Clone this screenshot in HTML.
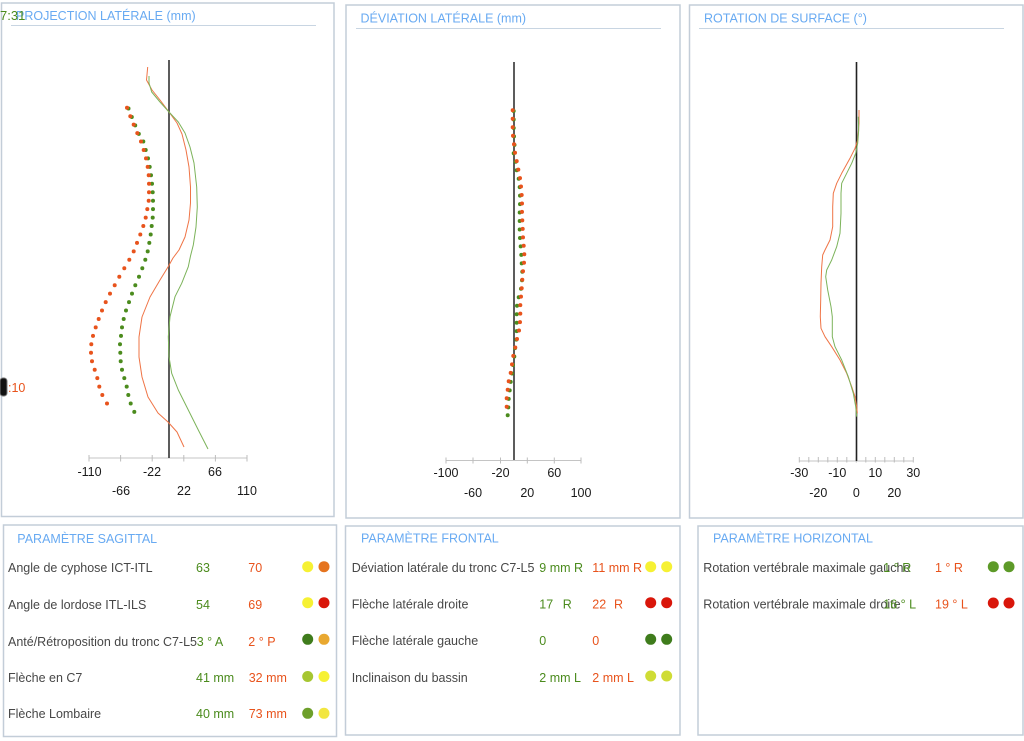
<!DOCTYPE html>
<html><head><meta charset="utf-8"><style>
html,body{margin:0;padding:0;background:#fff;}
svg{display:block;}
text{font-family:"Liberation Sans",Arial,sans-serif;}
.t{fill:#68aaf2;font-size:12.5px;}
.lb{fill:#474747;font-size:12.5px;}
.g{fill:#4b8b1d;font-size:12.5px;}
.o{fill:#e8531c;font-size:12.5px;}
.ax{fill:#1a1a1a;font-size:12.5px;text-anchor:middle;}
</style></head><body>
<svg width="1024" height="741" viewBox="0 0 1024 741" xmlns="http://www.w3.org/2000/svg">
<rect width="1024" height="741" fill="#fff"/>
<g fill="none" stroke="#c3cdd8" stroke-width="1.5">
<rect x="1.5" y="3" width="332.5" height="513.5"/>
<rect x="346" y="5" width="334" height="513"/>
<rect x="689.5" y="5" width="333.5" height="513"/>
<rect x="3.5" y="525" width="333" height="211.5"/>
<rect x="345.5" y="526" width="334.5" height="209"/>
<rect x="698" y="526" width="325" height="209"/>
</g>
<g stroke="#c8d5e2" stroke-width="1">
<line x1="11" y1="25.5" x2="316" y2="25.5"/>
<line x1="356" y1="28.5" x2="661" y2="28.5"/>
<line x1="699" y1="28.5" x2="1004" y2="28.5"/>
</g>
<text class="t" x="16" y="20">PROJECTION LATÉRALE (mm)</text>
<text class="t" x="360.5" y="22.5">DÉVIATION LATÉRALE (mm)</text>
<text class="t" x="704" y="22.5">ROTATION DE SURFACE (°)</text>
<text class="g" x="0" y="20" style="font-size:13px">7:31</text>
<rect x="0" y="378" width="7" height="18" rx="3" fill="#111" stroke="#777" stroke-width="1"/>
<text class="o" x="8" y="392">:10</text>

<!-- ===== Panel 1 ===== -->
<line x1="89" y1="458" x2="247" y2="458" stroke="#c4c4c4" stroke-width="1"/>
<g stroke="#bdbdbd" stroke-width="1">
<line x1="89" y1="455" x2="89" y2="461.5"/><line x1="120.6" y1="455" x2="120.6" y2="461.5"/>
<line x1="152.2" y1="455" x2="152.2" y2="461.5"/><line x1="183.8" y1="455" x2="183.8" y2="461.5"/>
<line x1="215.4" y1="455" x2="215.4" y2="461.5"/><line x1="247" y1="455" x2="247" y2="461.5"/>
</g>
<line x1="169" y1="60" x2="169" y2="458" stroke="#4a4a4a" stroke-width="1.8"/>
<text class="ax" x="89.5" y="476">-110</text><text class="ax" x="152" y="476">-22</text><text class="ax" x="215" y="476">66</text>
<text class="ax" x="121" y="495">-66</text><text class="ax" x="184" y="495">22</text><text class="ax" x="247" y="495">110</text>
<polyline fill="none" stroke="#ef7446" stroke-width="1" stroke-linejoin="round" points="147.7,67 146.5,80 152,90 160,100 169,112 177,123 182,134 186,150 189,167 190.5,187 190.5,203 189,220 185,237 179,250 173,258 168,267 160,280 150,297 142,317 139,337 139,357 142,377 148,397 158,413 168,422 177,432 184,447"/>
<polyline fill="none" stroke="#7cb35a" stroke-width="1" stroke-linejoin="round" points="149,76 149,83 151.7,92 160,102 169,112 178.3,122 185,133 190,147 194,163 196.7,187 197.3,207 196,227 193.3,245 190.5,256 188.3,266.7 181.7,283.3 175,296.7 170,316.7 168.3,336.7 169,356.7 171.7,373.3 178.3,390 188.3,410 198.3,430 208,449"/>
<g fill="#4b8b1d">
<circle cx="128.5" cy="108.5" r="2"/><circle cx="131.8" cy="117" r="2"/><circle cx="135.2" cy="125.4" r="2"/><circle cx="138.8" cy="133.9" r="2"/>
<circle cx="143.3" cy="141.5" r="2"/><circle cx="145.7" cy="150" r="2"/><circle cx="148" cy="158.4" r="2"/><circle cx="149.7" cy="166.9" r="2"/><circle cx="151" cy="175.3" r="2"/><circle cx="152" cy="183.8" r="2"/><circle cx="152.7" cy="192.2" r="2"/><circle cx="153" cy="200.7" r="2"/><circle cx="153" cy="209.1" r="2"/><circle cx="152.7" cy="217.6" r="2"/><circle cx="151.7" cy="226" r="2"/><circle cx="150.7" cy="234.5" r="2"/><circle cx="149.3" cy="242.9" r="2"/><circle cx="147.7" cy="251.4" r="2"/><circle cx="145.3" cy="259.8" r="2"/><circle cx="142.3" cy="268.3" r="2"/><circle cx="139" cy="276.7" r="2"/><circle cx="135.3" cy="285.2" r="2"/><circle cx="132" cy="293.6" r="2"/><circle cx="129" cy="302.1" r="2"/><circle cx="126" cy="310.5" r="2"/><circle cx="123.7" cy="319" r="2"/><circle cx="122" cy="327.4" r="2"/><circle cx="121" cy="335.9" r="2"/><circle cx="120" cy="344.3" r="2"/><circle cx="120.3" cy="352.8" r="2"/><circle cx="120.7" cy="361.2" r="2"/><circle cx="122" cy="369.7" r="2"/><circle cx="124.3" cy="378.1" r="2"/><circle cx="126.7" cy="386.6" r="2"/><circle cx="128.3" cy="395" r="2"/><circle cx="130.7" cy="403.5" r="2"/><circle cx="134.3" cy="411.9" r="2"/>
</g>
<g fill="#e8531c">
<circle cx="127" cy="107.7" r="2"/><circle cx="130.3" cy="116.2" r="2"/><circle cx="133.7" cy="124.6" r="2"/><circle cx="137.3" cy="133.1" r="2"/><circle cx="141" cy="141.5" r="2"/><circle cx="143.7" cy="150" r="2"/><circle cx="146" cy="158.4" r="2"/><circle cx="147.7" cy="166.9" r="2"/><circle cx="148.7" cy="175.3" r="2"/><circle cx="149" cy="183.8" r="2"/><circle cx="149" cy="192.2" r="2"/><circle cx="148.7" cy="200.7" r="2"/><circle cx="147.3" cy="209.1" r="2"/><circle cx="145.7" cy="217.6" r="2"/><circle cx="143.3" cy="226" r="2"/><circle cx="140.3" cy="234.5" r="2"/><circle cx="137" cy="242.9" r="2"/><circle cx="133.7" cy="251.4" r="2"/><circle cx="129.3" cy="259.8" r="2"/><circle cx="124.3" cy="268.3" r="2"/><circle cx="119.3" cy="276.7" r="2"/><circle cx="114.7" cy="285.2" r="2"/><circle cx="110" cy="293.6" r="2"/><circle cx="105.7" cy="302.1" r="2"/><circle cx="102" cy="310.5" r="2"/><circle cx="98.7" cy="319" r="2"/><circle cx="95.7" cy="327.4" r="2"/><circle cx="93" cy="335.9" r="2"/><circle cx="91.3" cy="344.3" r="2"/><circle cx="91" cy="352.8" r="2"/><circle cx="92" cy="361.2" r="2"/><circle cx="94.7" cy="369.7" r="2"/><circle cx="97.3" cy="378.1" r="2"/><circle cx="99.3" cy="386.6" r="2"/><circle cx="102.3" cy="395" r="2"/><circle cx="107" cy="403.5" r="2"/>
</g>

<!-- ===== Panel 2 ===== -->
<line x1="446" y1="460.5" x2="581" y2="460.5" stroke="#c4c4c4" stroke-width="1"/>
<g stroke="#bdbdbd" stroke-width="1">
<line x1="446" y1="457.5" x2="446" y2="463.5"/><line x1="473" y1="457.5" x2="473" y2="463.5"/>
<line x1="500.5" y1="457.5" x2="500.5" y2="463.5"/><line x1="527.3" y1="457.5" x2="527.3" y2="463.5"/>
<line x1="554.3" y1="457.5" x2="554.3" y2="463.5"/><line x1="581" y1="457.5" x2="581" y2="463.5"/>
</g>
<line x1="514" y1="62" x2="514" y2="460" stroke="#333" stroke-width="1.6"/>
<text class="ax" x="446" y="477">-100</text><text class="ax" x="500.5" y="477">-20</text><text class="ax" x="554.3" y="477">60</text>
<text class="ax" x="473" y="497">-60</text><text class="ax" x="527.3" y="497">20</text><text class="ax" x="581" y="497">100</text>
<g fill="#4b8b1d">
<circle cx="513.7" cy="111" r="2"/><circle cx="513.7" cy="119.5" r="2"/><circle cx="513.7" cy="128" r="2"/><circle cx="514" cy="136.4" r="2"/><circle cx="514.5" cy="144.9" r="2"/>
<circle cx="513.7" cy="153.2" r="2"/><circle cx="515.7" cy="161.7" r="2"/><circle cx="516.7" cy="170.2" r="2"/><circle cx="518.7" cy="178.7" r="2"/><circle cx="519.7" cy="187.1" r="2"/><circle cx="520" cy="195.6" r="2"/><circle cx="520" cy="204.1" r="2"/><circle cx="519.7" cy="212.5" r="2"/><circle cx="519.7" cy="221" r="2"/><circle cx="519.7" cy="229.5" r="2"/><circle cx="520" cy="238" r="2"/><circle cx="520.7" cy="246.4" r="2"/><circle cx="521.3" cy="254.9" r="2"/><circle cx="521.7" cy="263.4" r="2"/><circle cx="522.3" cy="271.8" r="2"/><circle cx="522" cy="280.3" r="2"/><circle cx="521" cy="288.8" r="2"/><circle cx="518.7" cy="297.2" r="2"/><circle cx="517" cy="305.7" r="2"/><circle cx="516.7" cy="314.2" r="2"/><circle cx="516.7" cy="322.7" r="2"/><circle cx="516.7" cy="331.1" r="2"/><circle cx="516.3" cy="339.6" r="2"/><circle cx="515" cy="348.1" r="2"/><circle cx="514.3" cy="356.5" r="2"/><circle cx="513" cy="365" r="2"/><circle cx="512" cy="373.5" r="2"/><circle cx="510.7" cy="381.9" r="2"/><circle cx="509.7" cy="390.4" r="2"/><circle cx="508.7" cy="398.9" r="2"/><circle cx="508.3" cy="407.4" r="2"/><circle cx="507.7" cy="415.2" r="2"/>
</g>
<g fill="#e8531c">
<circle cx="512.7" cy="110.3" r="2"/><circle cx="512.7" cy="118.8" r="2"/><circle cx="512.7" cy="127.2" r="2"/><circle cx="513" cy="135.7" r="2"/><circle cx="514" cy="144.2" r="2"/><circle cx="515" cy="152.7" r="2"/><circle cx="516.7" cy="161.1" r="2"/><circle cx="518.3" cy="169.6" r="2"/><circle cx="520" cy="178.1" r="2"/><circle cx="521" cy="186.5" r="2"/><circle cx="521.7" cy="195" r="2"/><circle cx="522" cy="203.5" r="2"/><circle cx="522" cy="211.9" r="2"/><circle cx="522.3" cy="220.4" r="2"/><circle cx="522.7" cy="228.9" r="2"/><circle cx="523" cy="237.4" r="2"/><circle cx="523.7" cy="245.8" r="2"/><circle cx="524.3" cy="254.3" r="2"/><circle cx="524" cy="262.8" r="2"/><circle cx="523" cy="271.2" r="2"/><circle cx="522.3" cy="279.7" r="2"/><circle cx="521.7" cy="288.2" r="2"/><circle cx="521" cy="296.6" r="2"/><circle cx="520.3" cy="305.1" r="2"/><circle cx="520.3" cy="313.6" r="2"/><circle cx="520" cy="322.1" r="2"/><circle cx="519" cy="330.5" r="2"/><circle cx="517" cy="339" r="2"/><circle cx="515.3" cy="347.5" r="2"/><circle cx="513.3" cy="355.9" r="2"/><circle cx="512" cy="364.4" r="2"/><circle cx="510.7" cy="372.9" r="2"/><circle cx="508.7" cy="381.3" r="2"/><circle cx="507.7" cy="389.8" r="2"/><circle cx="506.7" cy="398.3" r="2"/><circle cx="506.7" cy="406.8" r="2"/>
</g>

<!-- ===== Panel 3 ===== -->
<line x1="799.3" y1="461" x2="913.3" y2="461" stroke="#c4c4c4" stroke-width="1"/>
<g stroke="#bdbdbd" stroke-width="1">
<line x1="799.3" y1="457" x2="799.3" y2="462.5"/><line x1="808.8" y1="457" x2="808.8" y2="462.5"/><line x1="818.3" y1="457" x2="818.3" y2="462.5"/><line x1="827.8" y1="457" x2="827.8" y2="462.5"/><line x1="837.3" y1="457" x2="837.3" y2="462.5"/><line x1="846.8" y1="457" x2="846.8" y2="462.5"/><line x1="856.3" y1="457" x2="856.3" y2="462.5"/><line x1="865.8" y1="457" x2="865.8" y2="462.5"/><line x1="875.3" y1="457" x2="875.3" y2="462.5"/><line x1="884.8" y1="457" x2="884.8" y2="462.5"/><line x1="894.3" y1="457" x2="894.3" y2="462.5"/><line x1="903.8" y1="457" x2="903.8" y2="462.5"/><line x1="913.3" y1="457" x2="913.3" y2="462.5"/>
</g>
<line x1="856.5" y1="62" x2="856.5" y2="461" stroke="#222" stroke-width="1.6"/>
<text class="ax" x="799.3" y="477">-30</text><text class="ax" x="837.3" y="477">-10</text><text class="ax" x="875.3" y="477">10</text><text class="ax" x="913.3" y="477">30</text>
<text class="ax" x="818.3" y="497">-20</text><text class="ax" x="856.3" y="497">0</text><text class="ax" x="894.3" y="497">20</text>
<polyline fill="none" stroke="#ef7446" stroke-width="1" stroke-linejoin="round" points="859,110 859,123.3 857.7,140 855,148.3 850,158.3 841.7,173.3 836.7,183.3 833.3,193.3 832.7,206.7 832.7,226.7 830,240 825,250 822.7,255 821.7,266.7 821,283.3 820.7,300 820.3,316.7 821,328.3 825,336.7 831.7,346.7 840,360 846.7,373.3 851.7,386.7 855,396.7 856.7,406.7 857.3,413.3"/>
<polyline fill="none" stroke="#7cb35a" stroke-width="1" stroke-linejoin="round" points="858.3,116.7 858.7,130 857.7,143.3 855.7,153.3 851.7,163.3 845,176.7 841.7,183.3 841,193.3 841,213.3 840,233.3 836.7,246.7 831.7,260 826.7,270 825.7,276.7 827.7,290 831,306.7 832.3,316.7 832.3,336.7 835,346.7 841.7,360 848.3,376.7 853.3,393.3 855.7,406.7 856.7,416.7"/>

<!-- ===== Bottom: Sagittal ===== -->
<text class="t" x="17.3" y="543">PARAMÈTRE SAGITTAL</text>
<text class="lb" x="8" y="572">Angle de cyphose ICT-ITL</text>
<text class="lb" x="8" y="609">Angle de lordose ITL-ILS</text>
<text class="lb" x="8" y="646">Anté/Rétroposition du tronc C7-L5</text>
<text class="lb" x="8" y="682">Flèche en C7</text>
<text class="lb" x="8" y="718">Flèche Lombaire</text>
<text class="g" x="196" y="572">63</text><text class="o" x="248.3" y="572">70</text>
<text class="g" x="196" y="609">54</text><text class="o" x="248.3" y="609">69</text>
<text class="g" x="196.7" y="646">3 ° A</text><text class="o" x="248.3" y="646">2 ° P</text>
<text class="g" x="196" y="682">41 mm</text><text class="o" x="248.7" y="682">32 mm</text>
<text class="g" x="196" y="718">40 mm</text><text class="o" x="248.7" y="718">73 mm</text>
<circle cx="307.7" cy="566.7" r="5.5" fill="#f6f133"/><circle cx="324" cy="566.7" r="5.5" fill="#e5741f"/>
<circle cx="307.7" cy="602.7" r="5.5" fill="#f6f133"/><circle cx="324" cy="602.7" r="5.5" fill="#d9160a"/>
<circle cx="307.7" cy="639.3" r="5.5" fill="#3f7c1c"/><circle cx="324" cy="639.3" r="5.5" fill="#e9a830"/>
<circle cx="307.7" cy="676.5" r="5.5" fill="#a6c631"/><circle cx="324" cy="676.5" r="5.5" fill="#f6f133"/>
<circle cx="307.7" cy="713.3" r="5.5" fill="#6d9f2a"/><circle cx="324" cy="713.3" r="5.5" fill="#f2e640"/>

<!-- ===== Bottom: Frontal ===== -->
<text class="t" x="361" y="542.7">PARAMÈTRE FRONTAL</text>
<text class="lb" x="351.7" y="572">Déviation latérale du tronc C7-L5</text>
<text class="lb" x="351.7" y="608.5">Flèche latérale droite</text>
<text class="lb" x="351.7" y="645">Flèche latérale gauche</text>
<text class="lb" x="351.7" y="682">Inclinaison du bassin</text>
<text class="g" x="539.3" y="572">9 mm R</text><text class="o" x="592.3" y="572">11 mm R</text>
<text class="g" x="539.3" y="608.5">17</text><text class="g" x="562.7" y="608.5">R</text>
<text class="o" x="592.3" y="608.5">22</text><text class="o" x="614" y="608.5">R</text>
<text class="g" x="539.3" y="645">0</text><text class="o" x="592.3" y="645">0</text>
<text class="g" x="539.3" y="682">2 mm L</text><text class="o" x="592.3" y="682">2 mm L</text>
<circle cx="650.7" cy="566.7" r="5.5" fill="#f6f133"/><circle cx="666.7" cy="566.7" r="5.5" fill="#f6f133"/>
<circle cx="650.7" cy="602.7" r="5.5" fill="#d9160a"/><circle cx="666.7" cy="602.7" r="5.5" fill="#d9160a"/>
<circle cx="650.7" cy="639.3" r="5.5" fill="#3f7c1c"/><circle cx="666.7" cy="639.3" r="5.5" fill="#3f7c1c"/>
<circle cx="650.7" cy="676" r="5.5" fill="#cfdc35"/><circle cx="666.7" cy="676" r="5.5" fill="#cfdc35"/>

<!-- ===== Bottom: Horizontal ===== -->
<text class="t" x="713" y="542.7">PARAMÈTRE HORIZONTAL</text>
<text class="lb" x="703.3" y="572">Rotation vertébrale maximale gauche</text>
<text class="lb" x="703.3" y="608.5">Rotation vertébrale maximale droite</text>
<text class="g" x="883.3" y="572">1 ° R</text><text class="o" x="935" y="572">1 ° R</text>
<text class="g" x="883.3" y="608.5">16 ° L</text><text class="o" x="935" y="608.5">19 ° L</text>
<circle cx="993.3" cy="566.7" r="5.5" fill="#5d9a28"/><circle cx="1009" cy="566.7" r="5.5" fill="#5d9a28"/>
<circle cx="993.3" cy="603" r="5.5" fill="#d9160a"/><circle cx="1009" cy="603" r="5.5" fill="#d9160a"/>
</svg>
</body></html>
